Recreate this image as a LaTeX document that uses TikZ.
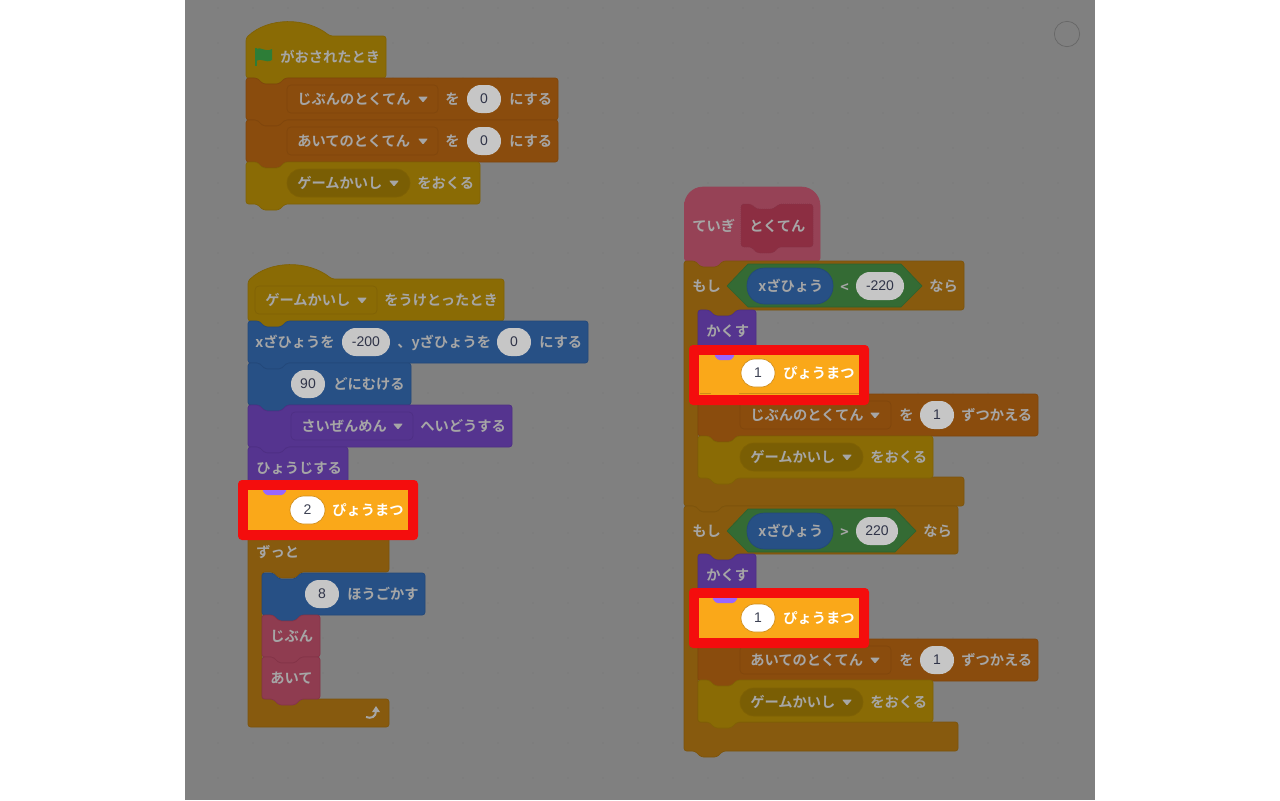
\documentclass[tikz,border=0pt]{standalone}
\usepackage{fontspec}
\setmainfont{Noto Sans CJK JP}[BoldFont={Noto Sans CJK JP Bold}]
\newfontfamily\digfont{Liberation Sans}
\definecolor{panel}{RGB}{128,128,128}
\definecolor{griddot}{RGB}{118,118,118}
\definecolor{hatc}{RGB}{138,107,5}
\definecolor{hatl}{RGB}{128,98,5}
\definecolor{hatd}{RGB}{122,94,4}
\definecolor{varc}{RGB}{138,76,13}
\definecolor{varl}{RGB}{128,70,12}
\definecolor{bluc}{RGB}{39,80,133}
\definecolor{blul}{RGB}{35,72,122}
\definecolor{purc}{RGB}{85,52,143}
\definecolor{purl}{RGB}{78,47,132}
\definecolor{pnkc}{RGB}{143,60,80}
\definecolor{pnkl}{RGB}{132,52,72}
\definecolor{defc}{RGB}{150,66,86}
\definecolor{defi}{RGB}{140,46,66}
\definecolor{ctlc}{RGB}{135,90,14}
\definecolor{ctll}{RGB}{125,84,12}
\definecolor{grnc}{RGB}{52,107,52}
\definecolor{grnl}{RGB}{46,98,46}
\definecolor{txt}{RGB}{166,166,166}
\definecolor{pillc}{RGB}{198,198,198}
\definecolor{digit}{RGB}{48,52,72}
\definecolor{digitb}{RGB}{62,66,84}
\definecolor{oran}{RGB}{250,168,25}
\definecolor{oranl}{RGB}{207,139,23}
\definecolor{redf}{RGB}{244,13,13}
\definecolor{bpur}{RGB}{153,102,255}
\definecolor{flagc}{RGB}{45,125,55}
\tikzset{
  x=0.75pt,y=-0.75pt,
  blk/.style={rounded corners=2pt,line width=0.5pt,line join=round},
  lbl/.style={anchor=west,inner sep=0pt,yshift=-0.3pt,font=\bfseries\fontsize{10.7}{12}\selectfont,text=txt,text height=9.4pt,text depth=1.3pt},
  wlbl/.style={lbl,text=white},
  num/.style={anchor=center,inner sep=0pt,font=\digfont\fontsize{10.5}{12}\selectfont,text=digit},
}
\newcounter{tn}
\newcommand\tx[3]{\stepcounter{tn}\node[lbl] (t\thetn) at (#1,#2) {#3};}
\newcommand\wtx[3]{\stepcounter{tn}\node[wlbl] (t\thetn) at (#1,#2) {#3};}
\newcommand\stk[6]{\draw[blk,fill=#5,draw=#6] (#1,#2)
  -- ({#1+11},#2) -- ({#1+17},{#2+6}) -- ({#1+33},{#2+6}) -- ({#1+39},#2)
  -- (#3,#2) -- (#3,#4)
  -- ({#1+39},#4) -- ({#1+33},{#4+6}) -- ({#1+17},{#4+6}) -- ({#1+11},#4)
  -- (#1,#4) -- cycle;}
\newcommand\hatblk[6]{\draw[blk,fill=#5,draw=#6] (#1,{#2+2})
  .. controls ({#1+22},{#2-19}) and ({#1+60},{#2-19}) .. ({#1+84},#2)
  -- (#3,#2) -- (#3,#4)
  -- ({#1+39},#4) -- ({#1+33},{#4+6}) -- ({#1+17},{#4+6}) -- ({#1+11},#4)
  -- (#1,#4) -- cycle;}
\newcommand\cbk[9]{\draw[blk,fill=#8,draw=#9] (#1,#2)
  -- ({#1+11},#2) -- ({#1+17},{#2+6}) -- ({#1+33},{#2+6}) -- ({#1+39},#2)
  -- (#3,#2) -- (#3,#4)
  -- ({#1+53},#4) -- ({#1+47},{#4+6}) -- ({#1+31},{#4+6}) -- ({#1+25},#4)
  -- ({#1+14},#4) -- ({#1+14},#5) -- (#6,#5) -- (#6,#7)
  -- ({#1+39},#7) -- ({#1+33},{#7+6}) -- ({#1+17},{#7+6}) -- ({#1+11},#7)
  -- (#1,#7) -- cycle;}
\newcommand\pil[4]{\stepcounter{tn}\fill[pillc,rounded corners=10.4pt] (#1,{#3-14}) rectangle (#2,{#3+14});
  \node[num] (t\thetn) at ({(#1+#2)/2},#3) {#4};}
\newcommand\wpil[4]{\stepcounter{tn}\draw[fill=white,draw=oranl,line width=0.5pt,rounded corners=10.4pt] (#1,{#3-14}) rectangle (#2,{#3+14});
  \node[num,text=digitb] (t\thetn) at ({(#1+#2)/2},#3) {#4};}
\newcommand\tri[2]{\fill[txt,rounded corners=0.6pt] ({#1-5},{#2-2.5}) -- ({#1+5},{#2-2.5}) -- (#1,{#2+3.5}) -- cycle;}
\newcommand\sdd[7]{\draw[fill=#5,draw=#6,line width=0.5pt,rounded corners=3pt] (#1,{#3-14}) rectangle (#2,{#3+14});
  \tx{{#1+10}}{#3}{#4}\tri{#7}{#3}}
\newcommand\rdd[7]{\draw[fill=#5,draw=#6,line width=0.5pt,rounded corners=10.4pt] (#1,{#3-14}) rectangle (#2,{#3+14});
  \tx{{#1+10}}{#3}{#4}\tri{#7}{#3}}
\newcommand\hilite[4]{\fill[redf,rounded corners=3pt] (#1,#2) rectangle ({#1+180},{#2+60});
  \fill[oran] ({#1+10},{#2+10}) rectangle ({#1+170},{#2+50});
  \fill[bpur,rounded corners=1pt] (#3,{#2+10}) -- (#4,{#2+10}) -- ({#4-4},{#2+15}) -- ({#3+4},{#2+15}) -- cycle;}
\begin{document}
\begin{tikzpicture}
\useasboundingbox (0,0) rectangle (1280,800);
\fill[white] (0,0) rectangle (1280,800);
\fill[panel] (185,0) rectangle (1095,800);
\foreach \i in {1,...,25}{\foreach \j in {0,...,22}{
  \fill[griddot] ({183+35*\i},{8+35*\j}) circle (0.45pt);}}
\draw[draw=black!60,line width=0.5pt] (1067,34) circle (9.5pt);

% ---- stack 1
\hatblk{246}{36}{386}{78}{hatc}{hatl}
\draw[flagc,line width=1.6pt] (256,48) -- (256,66);
\fill[flagc] (256,49) .. controls (261,46) and (265,53) .. (272,49) -- (272,60) .. controls (266,64) and (261,57) .. (256,61) -- cycle;
\tx{280}{57}{がおされたとき}
\stk{246}{78}{558}{120}{varc}{varl}
\sdd{287}{438}{99}{じぶんのとくてん}{varc}{varl}{423}
\tx{445}{99}{を}\pil{467}{501}{99}{0}\tx{509}{99}{にする}
\stk{246}{120}{558}{162}{varc}{varl}
\sdd{287}{438}{141}{あいてのとくてん}{varc}{varl}{423}
\tx{445}{141}{を}\pil{467}{501}{141}{0}\tx{509}{141}{にする}
\stk{246}{162}{480}{204}{hatc}{hatl}
\rdd{287}{410}{183}{ゲームかいし}{hatd}{hatl}{394}
\tx{417}{183}{をおくる}

% ---- stack 2
\hatblk{248}{279}{504}{321}{hatc}{hatl}
\sdd{255}{377}{300}{ゲームかいし}{hatc}{hatl}{362}
\tx{384}{300}{をうけとったとき}
\stk{248}{321}{588}{363}{bluc}{blul}
\tx{255}{342}{xざひょうを}\pil{342}{390}{342}{-200}
\tx{397}{342}{、yざひょうを}\pil{497}{531}{342}{0}\tx{539}{342}{にする}
\stk{248}{363}{411}{405}{bluc}{blul}
\pil{291}{325}{384}{90}\tx{333}{384}{どにむける}
\stk{248}{405}{512}{447}{purc}{purl}
\sdd{291}{413}{426}{さいぜんめん}{purc}{purl}{398}
\tx{420}{426}{へいどうする}
\stk{248}{447}{348}{489}{purc}{purl}
\tx{256}{468}{ひょうじする}
% forever
\draw[blk,fill=ctlc,draw=ctll] (248,531) -- (389,531) -- (389,572)
  -- (301,572) -- (295,578) -- (279,578) -- (273,572) -- (262,572)
  -- (262,699) -- (389,699) -- (389,727) -- (248,727) -- cycle;
\tx{256}{552}{ずっと}
\stk{262}{573}{425}{615}{bluc}{blul}
\pil{305}{339}{594}{8}\tx{347}{594}{ほうごかす}
\stk{262}{615}{320}{657}{pnkc}{pnkl}
\tx{270}{636}{じぶん}
\stk{262}{657}{320}{699}{pnkc}{pnkl}
\tx{270}{678}{あいて}
% loop arrow
\draw[txt,line width=1.5pt] (366,717) .. controls (371,719) and (376,717) .. (376,711);
\fill[txt] (372,712) -- (376,706) -- (380,712) -- cycle;
\hilite{238}{480}{262}{287}
\wpil{290}{325}{510}{2}\wtx{332}{510}{ぴょうまつ}

% ---- stack 3 : define
\draw[blk,fill=defc,draw=defc] (684.5,205)
  [rounded corners=14pt] -- (684.5,187) -- (820,187) [rounded corners=2pt] -- (820,261)
  -- (724,261) -- (718,267) -- (702,267) -- (696,261) -- (684.5,261) -- cycle;
\tx{692}{226}{ていぎ}
\draw[blk,fill=defi,draw=pnkl,densely dotted] (741,204) -- (751,204) -- (757,209) -- (773,209) -- (779,204)
  -- (813,204) -- (813,247) -- (779,247) -- (773,253) -- (757,253) -- (751,247) -- (741,247) -- cycle;
\tx{749}{226}{とくてん}

% if 1
\cbk{684}{261}{964}{310}{477}{964}{506}{ctlc}{ctll}
\tx{692}{286}{もし}
\draw[fill=grnc,draw=grnl,line width=0.5pt,line join=round] (727,286) -- (748,264) -- (901,264) -- (922,286) -- (901,307) -- (748,307) -- cycle;
\draw[fill=bluc,draw=blul,line width=0.5pt,rounded corners=13pt] (747,268) rectangle (833,304);
\tx{758}{286}{xざひょう}
\tx{840}{287}{<}
\pil{856}{904}{286}{-220}
\tx{929}{286}{なら}
\stk{698}{310}{756}{352}{purc}{purl}
\tx{706}{331}{かくす}
\stk{698}{394}{1038}{436}{varc}{varl}
\sdd{740}{891}{415}{じぶんのとくてん}{varc}{varl}{875}
\tx{899}{415}{を}\pil{920}{954}{415}{1}\tx{961}{415}{ずつかえる}
\hilite{689}{345}{714}{735}
\draw[oranl,line width=0.7pt] (700,393.5) -- (711,393.5) (739,393.5) -- (859,393.5);
\wpil{741}{775}{373}{1}\wtx{783}{373}{ぴょうまつ}
\stk{698}{436}{933}{478}{hatc}{hatl}
\rdd{740}{863}{457}{ゲームかいし}{hatd}{hatl}{847}
\tx{870}{457}{をおくる}

% if 2
\cbk{684}{506}{958}{554}{722}{958}{751}{ctlc}{ctll}
\tx{692}{531}{もし}
\draw[fill=grnc,draw=grnl,line width=0.5pt,line join=round] (727,531) -- (748,509) -- (895,509) -- (916,531) -- (895,552) -- (748,552) -- cycle;
\draw[fill=bluc,draw=blul,line width=0.5pt,rounded corners=13pt] (747,513) rectangle (833,549);
\tx{758}{531}{xざひょう}
\tx{840}{532}{>}
\pil{856}{898}{531}{220}
\tx{923}{531}{なら}
\stk{698}{554}{756}{596}{purc}{purl}
\tx{706}{575}{かくす}
\stk{698}{639}{1038}{681}{varc}{varl}
\sdd{740}{891}{660}{あいてのとくてん}{varc}{varl}{875}
\tx{899}{660}{を}\pil{920}{954}{660}{1}\tx{961}{660}{ずつかえる}
\hilite{689}{588}{712}{738}
\wpil{741}{775}{618}{1}\wtx{783}{618}{ぴょうまつ}
\stk{698}{680}{933}{722}{hatc}{hatl}
\rdd{740}{863}{702}{ゲームかいし}{hatd}{hatl}{847}
\tx{870}{702}{をおくる}
\end{tikzpicture}
\end{document}
